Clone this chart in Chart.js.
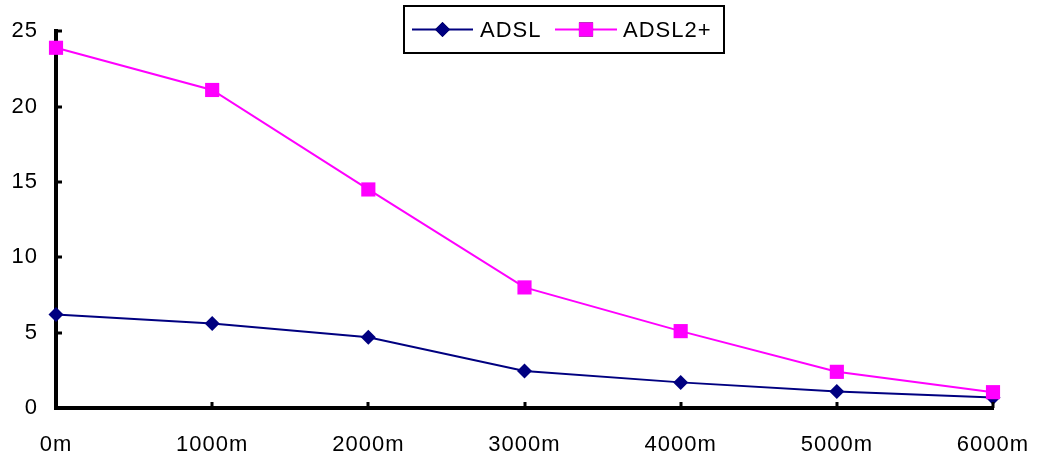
<!DOCTYPE html>
<html>
<head>
<meta charset="utf-8">
<style>
  html, body { margin: 0; padding: 0; background: #fff; }
  #wrap { width: 1037px; height: 455px; }
</style>
<script src="https://cdn.jsdelivr.net/npm/chart.js@4/dist/chart.umd.min.js"></script>
</head>
<body>
<div id="wrap"><canvas id="rateChart" width="1037" height="455"></canvas></div>
<script>
const distances = ['0m', '1000m', '2000m', '3000m', '4000m', '5000m', '6000m'];
const adslRate = [6.2, 5.6, 4.7, 2.45, 1.7, 1.1, 0.7];
const adsl2Rate = [23.9, 21.1, 14.5, 8.0, 5.1, 2.4, 1.05];
const yTicks = [0, 5, 10, 15, 20, 25];

const FONT = { family: '"Liberation Sans", Arial, sans-serif', size: 22 };
const SPACING = '1px';

// slightly wider text spacing for all labels
const spacedText = {
    id: 'spacedText',
    beforeLayout(chart) { chart.ctx.letterSpacing = SPACING; },
    beforeDraw(chart) { chart.ctx.letterSpacing = SPACING; }
};

// tick marks point into the plot area, not outwards
const innerTicks = {
    id: 'innerTicks',
    afterDatasetsDraw(chart) {
        const { ctx, chartArea, scales } = chart;
        ctx.save();
        ctx.strokeStyle = '#000';
        ctx.lineWidth = 3;
        ctx.beginPath();
        scales.y.ticks.forEach((t, i) => {
            const y = Math.round(scales.y.getPixelForTick(i));
            ctx.moveTo(chartArea.left, y);
            ctx.lineTo(chartArea.left + 6, y);
        });
        scales.x.ticks.forEach((t, i) => {
            const x = Math.round(scales.x.getPixelForTick(i));
            ctx.moveTo(x, chartArea.bottom);
            ctx.lineTo(x, chartArea.bottom - 6);
        });
        ctx.stroke();
        ctx.restore();
    }
};

// boxed legend at the top centre
const boxLegend = {
    id: 'boxLegend',
    afterDraw(chart) {
        const { ctx } = chart;
        const box = { x: 404, y: 6, w: 320, h: 47 };
        const cy = box.y + box.h / 2;
        ctx.save();
        ctx.letterSpacing = SPACING;
        ctx.strokeStyle = '#000';
        ctx.lineWidth = 2;
        ctx.strokeRect(box.x, box.y, box.w, box.h);
        ctx.font = FONT.size + 'px ' + FONT.family;
        ctx.textBaseline = 'middle';
        ctx.fillStyle = '#000';
        const items = [
            { ds: chart.data.datasets[0], x0: 412, x1: 473, tx: 480 },
            { ds: chart.data.datasets[1], x0: 555, x1: 617, tx: 623 }
        ];
        items.forEach(it => {
            ctx.strokeStyle = it.ds.borderColor;
            ctx.lineWidth = 2;
            ctx.beginPath();
            ctx.moveTo(it.x0, cy);
            ctx.lineTo(it.x1, cy);
            ctx.stroke();
            Chart.helpers.drawPoint(ctx, {
                pointStyle: it.ds.pointStyle,
                radius: it.ds.pointRadius,
                borderWidth: 0,
                rotation: 0
            }, (it.x0 + it.x1) / 2, cy);
            ctx.fillStyle = it.ds.backgroundColor;
            ctx.fill();
            ctx.fillStyle = '#000';
            ctx.fillText(it.ds.label, it.tx, cy + 1);
        });
        ctx.restore();
    }
};

const canvas = document.getElementById('rateChart');

new Chart(canvas.getContext('2d'), {
    type: 'line',
    data: {
        labels: distances,
        datasets: [{
            label: 'ADSL',
            data: adslRate,
            borderColor: '#000080',
            backgroundColor: '#000080',
            borderWidth: 2,
            pointStyle: 'rectRot',
            pointRadius: 7.5,
            pointBorderWidth: 0,
            tension: 0,
            clip: false,
            order: 1
        }, {
            label: 'ADSL2+',
            data: adsl2Rate,
            borderColor: '#FF00FF',
            backgroundColor: '#FF00FF',
            borderWidth: 2,
            pointStyle: 'rect',
            pointRadius: 10,
            pointBorderWidth: 0,
            tension: 0,
            clip: false,
            order: 0
        }]
    },
    options: {
        responsive: false,
        animation: false,
        devicePixelRatio: 1,
        layout: { padding: { left: 0, right: 0, top: 30, bottom: 0 } },
        plugins: {
            legend: { display: false },
            tooltip: { enabled: false }
        },
        scales: {
            x: {
                offset: false,
                grid: { display: true, drawOnChartArea: false, drawTicks: false },
                border: { display: true, color: '#000', width: 4 },
                ticks: { color: '#000', font: FONT, padding: 24, maxRotation: 0, autoSkip: false },
                afterFit: s => {
                    s.height = 47;
                    s.paddingLeft = 0;
                    s.paddingRight = 44;
                }
            },
            y: {
                min: 0,
                max: 25,
                afterBuildTicks: s => { s.ticks = yTicks.map(v => ({ value: v })); },
                grid: { display: true, drawOnChartArea: false, drawTicks: false },
                border: { display: true, color: '#000', width: 4 },
                ticks: { color: '#000', font: FONT, padding: 18 },
                afterFit: s => { s.width = 56; }
            }
        }
    },
    plugins: [spacedText, innerTicks, boxLegend]
});
</script>
</body>
</html>
